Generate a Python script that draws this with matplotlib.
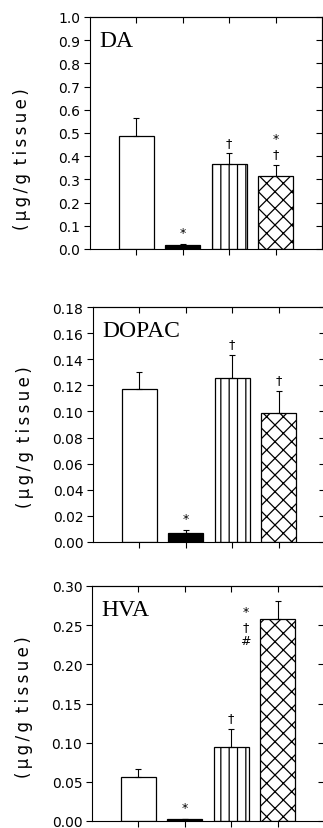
import matplotlib
matplotlib.use("Agg")
import matplotlib.pyplot as plt
import numpy as np

# values (ug/g tissue), four groups per panel
PANELS = ["DA", "DOPAC", "HVA"]

DA_MEAN = [0.488, 0.018, 0.366, 0.316]
DA_SEM = [0.077, 0.005, 0.046, 0.047]
DA_MARKS = ["", "*", "†", "*\n†"]
DA_TICKS = [0.0, 0.1, 0.2, 0.3, 0.4, 0.5, 0.6, 0.7, 0.8, 0.9, 1.0]

DOPAC_MEAN = [0.117, 0.007, 0.126, 0.099]
DOPAC_SEM = [0.013, 0.002, 0.017, 0.017]
DOPAC_MARKS = ["", "*", "†", "†"]
DOPAC_TICKS = [0.00, 0.02, 0.04, 0.06, 0.08, 0.10, 0.12, 0.14, 0.16, 0.18]

HVA_MEAN = [0.056, 0.002, 0.094, 0.258]
HVA_SEM = [0.011, 0.001, 0.024, 0.023]
HVA_MARKS = ["", "*", "†", "*\n†\n#"]
HVA_TICKS = [0.00, 0.05, 0.10, 0.15, 0.20, 0.25, 0.30]

MEANS = [DA_MEAN, DOPAC_MEAN, HVA_MEAN]
SEMS = [DA_SEM, DOPAC_SEM, HVA_SEM]
MARKS = [DA_MARKS, DOPAC_MARKS, HVA_MARKS]
TICKS = [DA_TICKS, DOPAC_TICKS, HVA_TICKS]
TICK_FMT = ["{:.1f}", "{:.2f}", "{:.2f}"]

# bar styles: open, filled, vertical lines, cross-hatch
FACES = ["white", "black", "white", "white"]
HATCHES = [None, None, "||", "xx"]

W, H = 323, 829
# axes boxes in pixels: left, top, bottom
BOXES = [(90, 18, 250), (93, 308, 543), (92, 587, 822)]
YLABEL_Y = [0.39, 0.45, 0.49]

THIN = "\u2009"
YLABEL = THIN.join("(\u03bcg/g") + " " + THIN + THIN.join("tissue)")

plt.rcParams["hatch.linewidth"] = 0.9
plt.rcParams["font.family"] = "DejaVu Sans"

fig = plt.figure(figsize=(W / 100, H / 100), dpi=100)

for k, name in enumerate(PANELS):
    left, top, bottom = BOXES[k]
    ax = fig.add_axes([left / W, 1 - bottom / H, 232 / W, (bottom - top) / H])
    x = np.arange(len(MEANS[k]))
    mean = np.array(MEANS[k])
    sem = np.array(SEMS[k])

    ax.bar(x, mean, width=0.76, color=FACES, edgecolor="black",
           hatch=HATCHES, linewidth=0.9, zorder=2)
    ax.errorbar(x, mean, yerr=[np.zeros_like(sem), sem], fmt="none",
                ecolor="black", elinewidth=0.8, capsize=2.5, capthick=0.8,
                zorder=3)

    for i, m in enumerate(MARKS[k]):
        if not m:
            continue
        if name == "HVA" and i == 3:
            # stacked marks sit beside the tall bar
            ax.annotate(m, xy=(x[i], mean[i] + sem[i]), xytext=(-23, -3),
                        textcoords="offset points", ha="center", va="top",
                        fontsize=9, linespacing=1.15)
        else:
            ax.annotate(m, xy=(x[i], mean[i] + sem[i]), xytext=(0, 3.5),
                        textcoords="offset points", ha="center", va="bottom",
                        fontsize=9, linespacing=1.2)

    ticks = TICKS[k]
    ax.set_xlim(-1.0, 4.0)
    ax.set_ylim(ticks[0], ticks[-1])
    ax.set_yticks(ticks)
    ax.set_yticklabels([TICK_FMT[k].format(t) for t in ticks])
    ax.set_xticks(x)
    ax.set_xticklabels([])
    ax.tick_params(axis="both", direction="out", length=4, width=0.8,
                   labelsize=10, pad=3)

    top_ax = ax.secondary_xaxis("top")
    top_ax.set_xticks(x)
    top_ax.set_xticklabels([])
    top_ax.tick_params(direction="in", length=4, width=0.8)
    right_ax = ax.secondary_yaxis("right")
    right_ax.set_yticks(ticks)
    right_ax.set_yticklabels([])
    right_ax.tick_params(direction="in", length=4, width=0.8)

    for side in ["left", "right", "top", "bottom"]:
        ax.spines[side].set_linewidth(0.8)
    top_ax.spines["top"].set_linewidth(0.8)
    right_ax.spines["right"].set_linewidth(0.8)

    ax.text(0.04, 0.9, name, transform=ax.transAxes, ha="left", va="center",
            fontsize=17, family="Liberation Serif")

    ax.set_ylabel(YLABEL, fontsize=12)
    ax.yaxis.set_label_coords(-0.255, YLABEL_Y[k])

fig.savefig("out.png", dpi=100)
